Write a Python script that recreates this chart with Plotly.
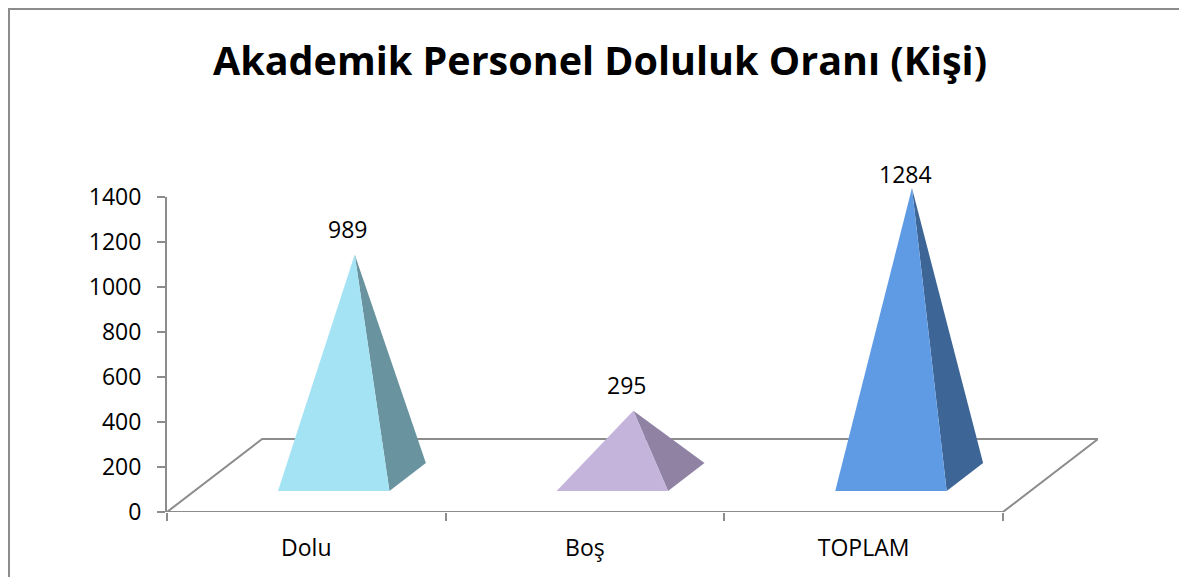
import plotly.graph_objects as go

# ---- data ----
categories = ["Dolu", "Boş", "TOPLAM"]
values = [989, 295, 1284]
front_colors = ["#A4E3F3", "#C4B4DC", "#5F9BE5"]
side_colors = ["#68939F", "#8F82A3", "#3D6697"]
y_ticks = [0, 200, 400, 600, 800, 1000, 1200, 1400]
y_max = 1400

# ---- geometry (pseudo-3D projection in data units) ----
DX = 0.3414      # depth shift along x (category units)
DY = 324.4       # depth shift along y (value units)
HW = 0.20        # half width of pyramid base (category units)
D0, D1 = 0.288, 0.671   # pyramid front/back depth fraction
DC = (D0 + D1) / 2

def proj(i, u, d, h=0.0):
    return i + 0.5 + u + d * DX, d * DY + h

# ---- page layout (the page body adds an 8px offset) ----
OFF = 8
W, H = 1187 - OFF, 577 - OFF
L, R, T, B = 167 - OFF, 1187 - 1098, 150 - OFF, 577 - 512
pw, ph = W - L - R, H - T - B
axis_px = 512 - 197                 # pixel height of the 0..1400 axis
dom_top = axis_px / ph
y2_max = y_max * ph / axis_px       # same value scale on the full-height hidden axis

fig = go.Figure()

n = len(categories)
fx = [0, DX, n + DX, n, 0]
fy = [0, DY, DY, 0, 0]
fig.add_trace(go.Scatter(x=fx, y=fy, mode="lines", xaxis="x", yaxis="y2",
                         line=dict(color="#8C8C8C", width=2),
                         hoverinfo="skip", showlegend=False))

annotations = []
for i, v in enumerate(values):
    fl = proj(i, -HW, D0)
    fr = proj(i, HW, D0)
    br = proj(i, HW, D1)
    ap = proj(i, 0.01, DC, v)
    fig.add_trace(go.Scatter(x=[fr[0], br[0], ap[0], fr[0]],
                             y=[fr[1], br[1], ap[1], fr[1]],
                             xaxis="x", yaxis="y2",
                             fill="toself", fillcolor=side_colors[i],
                             mode="lines", line=dict(width=0, color=side_colors[i]),
                             hoverinfo="skip", showlegend=False))
    fig.add_trace(go.Scatter(x=[fl[0], fr[0], ap[0], fl[0]],
                             y=[fl[1], fr[1], ap[1], fl[1]],
                             xaxis="x", yaxis="y2",
                             fill="toself", fillcolor=front_colors[i],
                             mode="lines", line=dict(width=0, color=front_colors[i]),
                             hoverinfo="skip", showlegend=False))
    annotations.append(dict(x=ap[0] - 0.025, y=min(ap[1] + 115, 1502),
                            xref="x", yref="y2", text=str(v), showarrow=False,
                            xanchor="center", yanchor="middle",
                            font=dict(size=23, family="Open Sans", color="#000000")))

# an invisible trace so the visible y axis is drawn
fig.add_trace(go.Scatter(x=[None], y=[None], xaxis="x", yaxis="y",
                         hoverinfo="skip", showlegend=False))

shapes = [dict(type="rect", xref="paper", yref="paper",
               x0=(9 - OFF - L) / pw, x1=(W + 50 - L) / pw,
               y0=(-50 - B) / ph, y1=(H - B - 1) / ph,
               line=dict(color="#8C8C8C", width=2), fillcolor="rgba(0,0,0,0)",
               layer="below")]

fig.update_layout(
    width=W, height=H,
    margin=dict(l=L, r=R, t=T, b=B),
    paper_bgcolor="white", plot_bgcolor="white",
    font=dict(family="Open Sans", color="#000000"),
    title=dict(text="<b>Akademik Personel Doluluk Oranı (Kişi)</b>",
               x=(600 - OFF) / W, xanchor="center", y=1 - (61 - OFF) / H, yanchor="middle",
               xref="container", yref="container",
               font=dict(size=39.5, family="Open Sans", color="#000000")),
    xaxis=dict(range=[0, n + DX], showgrid=False, zeroline=False, showline=False,
               anchor="y",
               tickvals=[k + 0.5 for k in range(n)], ticktext=categories,
               ticks="", ticklabelstandoff=20,
               tickfont=dict(size=23, family="Open Sans", color="#000000"),
               minor=dict(tickvals=list(range(n + 1)), ticks="outside",
                          ticklen=8, tickwidth=2, tickcolor="#8C8C8C"),
               fixedrange=True),
    yaxis=dict(range=[0, y_max], domain=[0, dom_top], tickvals=y_ticks,
               showgrid=False, zeroline=False, anchor="x",
               showline=True, linecolor="#8C8C8C", linewidth=2,
               ticks="outside", ticklen=8, tickwidth=2, tickcolor="#8C8C8C",
               ticklabelstandoff=11,
               tickfont=dict(size=23, family="Open Sans", color="#000000"),
               fixedrange=True),
    yaxis2=dict(range=[0, y2_max], domain=[0, 1], anchor="x", visible=False,
                showgrid=False, zeroline=False, fixedrange=True),
    annotations=annotations,
    shapes=shapes,
)

fig.write_html("out.html")
